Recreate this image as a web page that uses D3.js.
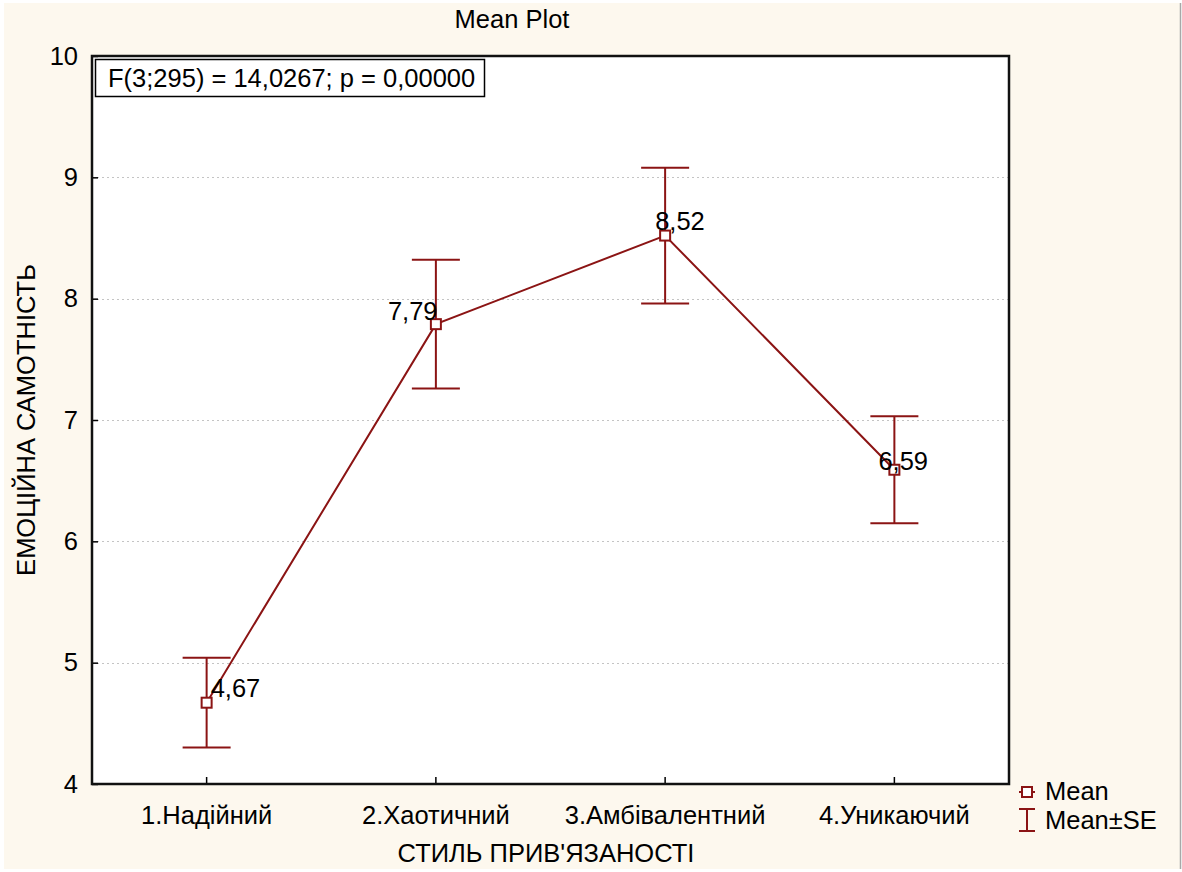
<!DOCTYPE html>
<html>
<head>
<meta charset="utf-8">
<script src="https://cdn.jsdelivr.net/npm/d3@7/dist/d3.min.js"></script>
<style>
  html, body { margin: 0; padding: 0; background: #ffffff; }
  svg { display: block; }
  text { font-family: Arial, "Liberation Sans", sans-serif; fill: #000; }
</style>
</head>
<body>
<svg id="chart" width="1182" height="872"></svg>
<script>
// Attachment style groups and their emotional loneliness scores
const categories = ["1.Надійний", "2.Хаотичний", "3.Амбівалентний", "4.Уникаючий"];
const means = [4.67, 7.79, 8.52, 6.59];
const standardErrors = [0.37, 0.53, 0.56, 0.44];
const meanLabels = ["4,67", "7,79", "8,52", "6,59"];
const yTicks = [4, 5, 6, 7, 8, 9, 10];
const chartTitle = "Mean Plot";
const statsText = "F(3;295) = 14,0267; p = 0,00000";
const xTitle = "СТИЛЬ ПРИВ'ЯЗАНОСТІ";
const yTitle = "ЕМОЦІЙНА САМОТНІСТЬ";
const legendItems = ["Mean", "Mean±SE"];

const W = 1182, H = 872;
const plot = { left: 92, right: 1009, top: 56, bottom: 784 };
const red = "#8b1414";
const fontSize = 25.5;

// Where each value label sits relative to its marker (text start, baseline)
const labelOffsets = [[4, -6], [-48, -4], [-10, -6], [-16, 0]];

const svg = d3.select("#chart");

// Page background
svg.append("rect").attr("x", 0).attr("y", 0).attr("width", W).attr("height", H).attr("fill", "#ffffff");
svg.append("rect").attr("x", 4).attr("y", 3).attr("width", 1176).attr("height", 866).attr("fill", "#fdf8ee");
svg.append("line").attr("x1", 1180.5).attr("x2", 1180.5).attr("y1", 3).attr("y2", 869)
  .attr("stroke", "#a8a8a8").attr("stroke-width", 1.5);

// Plot area
svg.append("rect")
  .attr("x", plot.left).attr("y", plot.top)
  .attr("width", plot.right - plot.left).attr("height", plot.bottom - plot.top)
  .attr("fill", "#ffffff");

const x = d3.scaleBand().domain(categories).range([plot.left, plot.right]);
const cx = d => x(d) + x.bandwidth() / 2;
const y = d3.scaleLinear().domain([4, 10]).range([plot.bottom, plot.top]);

// Dotted gridlines
svg.append("g").selectAll("line")
  .data(yTicks.filter(t => t > 4 && t < 10))
  .join("line")
  .attr("x1", plot.left).attr("x2", plot.right)
  .attr("y1", d => Math.round(y(d)) + 0.5).attr("y2", d => Math.round(y(d)) + 0.5)
  .attr("stroke", "#c4c4c4").attr("stroke-width", 1).attr("stroke-dasharray", "2,3");

// Y axis: ticks pointing into the plot
const yAxis = d3.axisLeft(y).tickValues(yTicks).tickFormat(d3.format("d")).tickSize(-6).tickPadding(14);
const gy = svg.append("g").attr("transform", `translate(${plot.left},0)`).call(yAxis);
gy.select(".domain").remove();
gy.selectAll(".tick line").attr("stroke", "#000").attr("stroke-width", 1.5);
gy.selectAll(".tick text").attr("font-size", fontSize).attr("fill", "#000")
  .attr("font-family", "Arial, 'Liberation Sans', sans-serif");

// X axis: ticks pointing up into the plot
const xAxis = d3.axisBottom(x).tickSize(-7).tickPadding(22);
const gx = svg.append("g").attr("transform", `translate(0,${plot.bottom})`).call(xAxis);
gx.select(".domain").remove();
gx.selectAll(".tick line").attr("stroke", "#000").attr("stroke-width", 1.5);
gx.selectAll(".tick text").attr("font-size", fontSize).attr("fill", "#000")
  .attr("font-family", "Arial, 'Liberation Sans', sans-serif");

// Frame
svg.append("rect")
  .attr("x", plot.left).attr("y", plot.top)
  .attr("width", plot.right - plot.left).attr("height", plot.bottom - plot.top)
  .attr("fill", "none").attr("stroke", "#111").attr("stroke-width", 2.5);

// Statistics box
const statsG = svg.append("g");
statsG.append("rect").attr("x", 95.5).attr("y", 59.5).attr("width", 389).attr("height", 37)
  .attr("fill", "#fff").attr("stroke", "#000").attr("stroke-width", 1.5);
statsG.append("text").attr("x", 108).attr("y", 87).attr("font-size", fontSize).text(statsText);

// Error bars (mean ± SE)
const capHalf = 24;
const eb = svg.append("g").attr("stroke", red).attr("stroke-width", 2).attr("fill", "none");
categories.forEach((c, i) => {
  const lo = y(means[i] - standardErrors[i]);
  const hi = y(means[i] + standardErrors[i]);
  const xc = cx(c);
  eb.append("line").attr("x1", xc).attr("x2", xc).attr("y1", hi).attr("y2", lo);
  eb.append("line").attr("x1", xc - capHalf).attr("x2", xc + capHalf).attr("y1", hi).attr("y2", hi);
  eb.append("line").attr("x1", xc - capHalf).attr("x2", xc + capHalf).attr("y1", lo).attr("y2", lo);
});

// Mean line
const line = d3.line().x((d, i) => cx(categories[i])).y(d => y(d));
svg.append("path").datum(means).attr("d", line)
  .attr("fill", "none").attr("stroke", red).attr("stroke-width", 2);

// Mean markers
const m = 10;
svg.append("g").selectAll("rect").data(means).join("rect")
  .attr("x", (d, i) => cx(categories[i]) - m / 2)
  .attr("y", d => y(d) - m / 2)
  .attr("width", m).attr("height", m)
  .attr("fill", "#fff").attr("stroke", red).attr("stroke-width", 2);

// Value labels
svg.append("g").selectAll("text").data(means).join("text")
  .attr("x", (d, i) => cx(categories[i]) + labelOffsets[i][0])
  .attr("y", (d, i) => y(d) + labelOffsets[i][1])
  .attr("font-size", fontSize)
  .text((d, i) => meanLabels[i]);

// Titles
svg.append("text").attr("x", 512).attr("y", 28).attr("text-anchor", "middle")
  .attr("font-size", fontSize).text(chartTitle);
svg.append("text").attr("x", 546).attr("y", 862).attr("text-anchor", "middle")
  .attr("font-size", fontSize).text(xTitle);
svg.append("text")
  .attr("transform", `translate(35,${(plot.top + plot.bottom) / 2}) rotate(-90)`)
  .attr("text-anchor", "middle").attr("font-size", fontSize).text(yTitle);

// Legend
const lg = svg.append("g");
lg.append("line").attr("x1", 1019).attr("x2", 1035).attr("y1", 792).attr("y2", 792)
  .attr("stroke", red).attr("stroke-width", 2);
lg.append("rect").attr("x", 1022).attr("y", 787).attr("width", 10).attr("height", 10)
  .attr("fill", "#fff").attr("stroke", red).attr("stroke-width", 2);
lg.append("text").attr("x", 1045).attr("y", 800).attr("font-size", fontSize).text(legendItems[0]);
const eg = lg.append("g").attr("stroke", red).attr("stroke-width", 2);
eg.append("line").attr("x1", 1027).attr("x2", 1027).attr("y1", 809).attr("y2", 831);
eg.append("line").attr("x1", 1019).attr("x2", 1035).attr("y1", 809).attr("y2", 809);
eg.append("line").attr("x1", 1019).attr("x2", 1035).attr("y1", 831).attr("y2", 831);
lg.append("text").attr("x", 1045).attr("y", 829).attr("font-size", fontSize).text(legendItems[1]);
</script>
</body>
</html>
